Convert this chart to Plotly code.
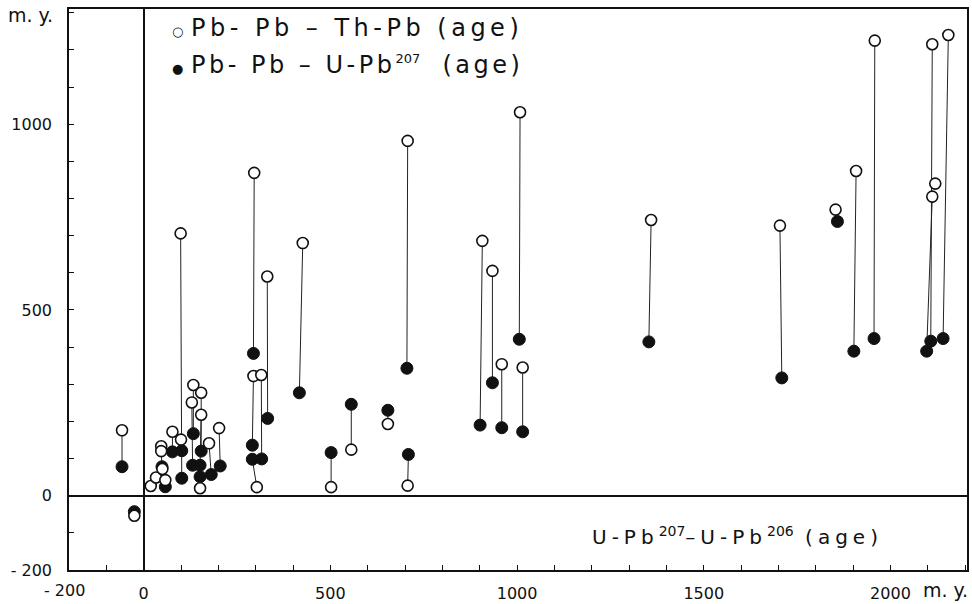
import plotly.graph_objects as go
import math

nan = float("nan")

# Each sample: U-Pb207 - U-Pb206 age difference (x) and the two Pb-Pb age differences (y)
x_th = [-58, -25, 19, 33, 47, 47, 50, 58, 77, 100, 99, 133, 129, 154, 154, 151, 175, 202,
        296, 294, 303, 315, 331, 426, 502, 556, 654, 707, 707, 907, 934, 959, 1008, 1015,
        1359, 1704, 1853, 1908, 1958, 2112, 2112, 2120, 2155]
th_pb = [176, -54, 26, 49, 133, 120, 72, 42, 172, 151, 706, 298, 251, 277, 218, 20, 141, 182,
         869, 322, 23, 325, 590, 680, 23, 124, 193, 955, 27, 686, 605, 354, 1032, 345,
         742, 727, 770, 874, 1225, 1215, 805, 840, 1240]
x_u = [-58, -25, nan, nan, nan, 49, nan, 58, 77, 102, 102, 133, 131, 154, 151, 151, 181, 205,
       294, 291, 291, 316, 332, 417, 502, 556, 654, 705, 709, 901, 934, 959, 1006, 1015,
       1353, 1709, 1858, 1902, 1956, 2108, 2097, nan, 2141]
u_pb207 = [78, -43, nan, nan, nan, 78, nan, 24, 118, 121, 47, 167, 82, 120, 82, 51, 57, 80,
           383, 136, 98, 99, 208, 277, 116, 246, 230, 343, 111, 190, 304, 183, 421, 172,
           414, 317, 738, 389, 423, 416, 389, nan, 423]

x_tick_vals = [0, 500, 1000, 1500, 2000]
x_tick_text = ["0", "500", "1000", "1500", "2000"]
y_tick_vals = [-200, 0, 500, 1000]
y_tick_text = ["- 200", "0", "500", "1000"]

FONT = "DejaVu Sans"

# connecting segments built from the sample arrays
seg_x, seg_y = [], []
for a, b, c, d in zip(x_th, th_pb, x_u, u_pb207):
    if not (math.isnan(c) or math.isnan(d)):
        seg_x += [a, c, None]
        seg_y += [b, d, None]

fig = go.Figure()
fig.add_trace(go.Scatter(x=seg_x, y=seg_y, mode="lines",
                         line=dict(color="#222", width=1), hoverinfo="skip", showlegend=False))
fig.add_trace(go.Scatter(x=x_u, y=u_pb207, mode="markers", name="Pb-Pb - U-Pb207 (age)",
                         marker=dict(symbol="circle", size=12, color="#111",
                                     line=dict(color="#111", width=1)), showlegend=False))
fig.add_trace(go.Scatter(x=x_th, y=th_pb, mode="markers", name="Pb-Pb - Th-Pb (age)",
                         marker=dict(symbol="circle", size=11, color="white",
                                     line=dict(color="#111", width=1.6)), showlegend=False))

axis_common = dict(showgrid=False, showline=True, linecolor="#111", linewidth=1.5, mirror=True,
                   zeroline=True, zerolinecolor="#111", zerolinewidth=1.5,
                   ticks="inside", ticklen=5, tickcolor="#111", automargin=False,
                   tickfont=dict(family=FONT, size=16, color="#111"))

fig.update_xaxes(range=[-200, 2205], tickvals=x_tick_vals, ticktext=x_tick_text,
                 ticklabelstandoff=8,
                 minor=dict(dtick=100, tick0=0, ticks="inside", ticklen=5, tickcolor="#111"),
                 **axis_common)
fig.update_yaxes(range=[-200, 1310], tickvals=y_tick_vals, ticktext=y_tick_text,
                 ticklabelstandoff=12,
                 minor=dict(dtick=100, tick0=0, ticks="inside", ticklen=5, tickcolor="#111"),
                 **axis_common)

sp = "letter-spacing:4.5px"
fig.add_annotation(xref="paper", yref="paper", x=0.113, y=0.966, xanchor="left", yanchor="middle",
                   showarrow=False,
                   text=f'<span style="font-size:13px">○</span> <span style="{sp}">Pb- Pb – Th-Pb (age)</span>',
                   font=dict(family=FONT, size=24, color="#111"))
fig.add_annotation(xref="paper", yref="paper", x=0.113, y=0.900, xanchor="left", yanchor="middle",
                   showarrow=False,
                   text=(f'<span style="font-size:13px">●</span> <span style="letter-spacing:3.5px">Pb- Pb – U-Pb</span>'
                         '<sup><span style="font-size:13px">207</span></sup>'
                         '<span style="letter-spacing:3.5px">  (age)</span>'),
                   font=dict(family=FONT, size=24, color="#111"))
fig.add_annotation(xref="paper", yref="paper", x=0.744, y=0.06, xanchor="center", yanchor="middle",
                   showarrow=False,
                   text=('<span style="letter-spacing:5px">U-Pb</span><sup>207</sup>'
                         '<span style="letter-spacing:5px">–U-Pb</span><sup>206</sup>'
                         '<span style="letter-spacing:5px"> (age)</span>'),
                   font=dict(family=FONT, size=20, color="#111"))
# axis unit labels
fig.add_annotation(xref="paper", yref="paper", x=-0.043, y=0.989, xanchor="center", yanchor="middle",
                   showarrow=False, text="m. y.", font=dict(family=FONT, size=19, color="#111"))
fig.add_annotation(xref="paper", yref="paper", x=0.976, y=-0.036, xanchor="center", yanchor="middle",
                   showarrow=False, text="m. y.", font=dict(family=FONT, size=19, color="#111"))
fig.add_annotation(xref="paper", yref="paper", x=-0.005, y=-0.036, xanchor="center", yanchor="middle",
                   showarrow=False, text="- 200", font=dict(family=FONT, size=16, color="#111"))

fig.update_layout(width=972, height=604, margin=dict(l=69, r=5, t=9, b=34),
                  plot_bgcolor="white", paper_bgcolor="white", showlegend=False)

fig.write_html("out.html")
